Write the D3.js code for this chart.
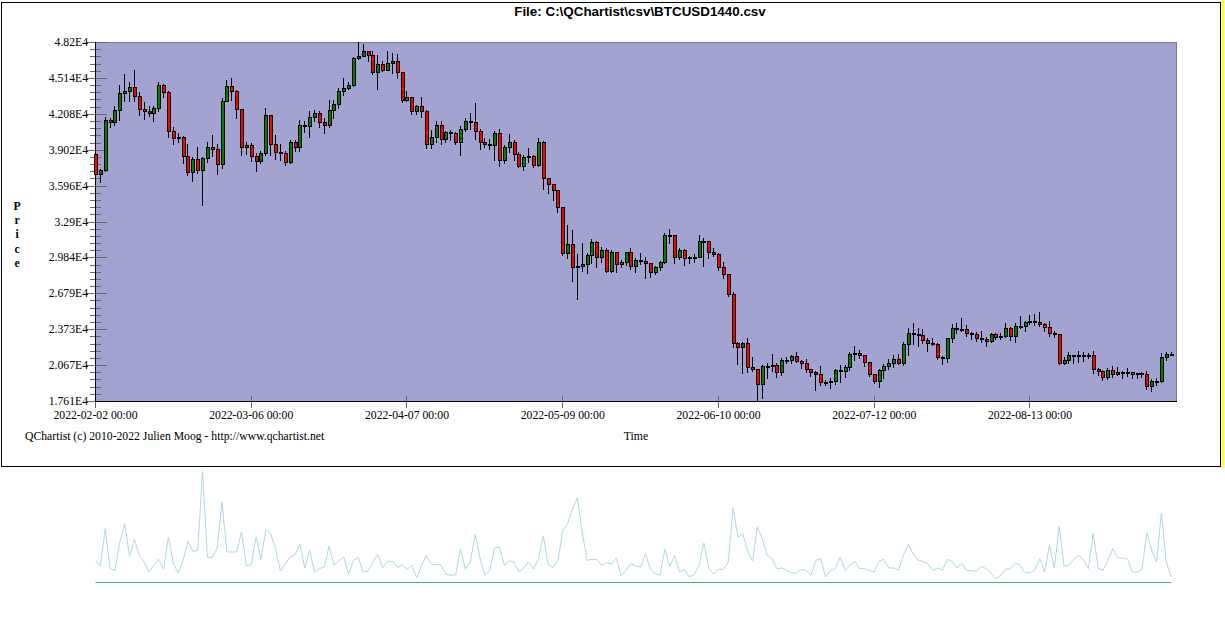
<!DOCTYPE html>
<html><head><meta charset="utf-8">
<script src="https://cdn.jsdelivr.net/npm/d3@7"></script>
<style>html,body{margin:0;padding:0;background:#fff}svg{display:block}</style>
</head><body>
<svg id="chart" width="1225" height="621"></svg>
<script>
const titleText = "File: C:\\QChartist\\csv\\BTCUSD1440.csv";
const footerText = "QChartist (c) 2010-2022 Julien Moog - http://www.qchartist.net";
const xAxisTitle = "Time";
const yAxisTitle = "Price";
const startDate = "2022-02-02";
const xTickDates = ["2022-02-02","2022-03-06","2022-04-07","2022-05-09","2022-06-10","2022-07-12","2022-08-13"];
const xTickLabels = ["2022-02-02 00:00","2022-03-06 00:00","2022-04-07 00:00","2022-05-09 00:00","2022-06-10 00:00","2022-07-12 00:00","2022-08-13 00:00"];
const yTickLabels = ["1.761E4","2.067E4","2.373E4","2.679E4","2.984E4","3.29E4","3.596E4","3.902E4","4.208E4","4.514E4","4.82E4"];

const opens = [
38630,36920,37270,41530,41420,42410,43830,44050,44340,43570,
42460,42290,42120,42550,44510,43910,40590,40050,40120,38460,
37100,38200,37320,38290,39250,39120,37780,43170,44420,44000,
42520,39230,39430,38460,38030,38720,41950,39480,38830,38740,
37980,39650,39280,41100,41020,41780,42180,41360,41160,42380,
42920,44000,44280,44510,46840,47040,47400,47120,45620,46330,
45840,46380,46580,45640,43230,43490,42290,42720,42290,39540,
40110,41100,39960,40500,40450,39680,40760,41440,41370,40590,
39710,39540,39400,40420,38170,39230,39710,38630,37660,38430,
38490,37750,39650,36580,36070,35560,34110,30250,30960,29060,
29150,29260,30020,31190,29910,30450,28690,30280,29260,29430,
30280,29140,29630,29540,29400,28630,29030,29430,31730,31750,
29850,30480,29770,29850,29870,31270,31200,30280,30140,29060,
28460,26760,22530,22210,22530,20480,20340,19030,20590,20600,
20680,20050,21100,21130,21450,21050,20880,20310,20110,19940,
19260,19200,19290,20220,20180,20510,21590,21730,21530,20900,
19910,19340,20250,20560,20850,21160,20820,22440,23380,23290,
23200,22780,22580,22470,21360,21250,22950,23800,23780,23750,
23380,23290,23010,22890,22750,23320,23040,23150,23800,23180,
24000,23980,24370,24400,24330,24170,23890,23380,23280,20880,
21100,21530,21450,21530,21450,21530,20310,20170,19630,20250,
19910,20080,20110,20050,19900,19990,19910,18890,19320,19330,
21330,21620];
const highs = [
38750,37380,41810,41730,42720,44540,45470,44790,45820,43940,
43090,42720,42750,44820,44600,44000,40930,40450,40200,39510,
38370,39280,38400,39650,40280,39500,43400,44990,45130,44100,
42520,39680,39600,38740,38890,42580,42010,40250,39510,38890,
39850,39850,41530,41440,42350,42440,42290,41730,43230,43230,
44280,45130,44790,46890,48195,48060,47400,47460,47120,46610,
47400,47260,47180,45640,44000,43490,42860,43490,42440,40670,
41500,41500,40590,40730,40500,41040,41700,42180,42970,40760,
39990,39910,40590,40790,39400,40360,39850,38830,38570,39140,
38540,39990,39790,36610,36070,35560,34170,32610,32180,30140,
31050,30190,31420,31250,30760,30650,30480,30340,29630,30340,
30620,29820,30190,29850,29400,29140,29570,31950,32240,31760,
30620,30560,29970,30140,31760,31500,31270,30620,30190,29460,
28460,26900,22600,22670,22950,21330,20340,20680,20880,21620,
20820,21250,21390,21560,21760,21100,21160,20310,20200,20590,
19400,19540,20310,20680,20680,21810,22300,21960,21530,20900,
19910,20310,20740,21190,21530,21590,22670,23860,24230,23860,
23750,22950,22950,22520,21400,23010,24140,24230,24650,24090,
23520,23460,23580,23090,23430,23430,23430,24290,23940,24290,
24850,24460,24940,25020,25170,24290,24460,23580,23280,21330,
21810,21530,21900,21810,21670,21900,20390,20250,20390,20590,
20540,20200,20390,20110,20030,20110,20170,19460,19540,21670,
21810,21810];
const lows = [
36750,36240,37180,40930,41100,41560,43150,43200,43150,41950,
41670,41900,41500,42290,43500,40080,39510,39650,37890,36850,
36390,37040,34340,38000,38460,36980,37490,43150,43290,41720,
38600,38660,38030,37180,37890,38600,38600,38230,38180,37750,
37890,38890,38890,40530,40080,41500,40930,40450,40930,41730,
42580,43660,44200,44420,46720,46980,46610,45500,44220,45700,
45780,45560,45130,43060,43150,42070,42070,41810,39170,39170,
39680,39510,39680,39820,39510,38600,40590,40760,39910,39110,
39280,39110,38150,37660,37920,38800,38150,37580,37290,38000,
37520,37640,35700,35310,34740,33740,30050,29770,27870,26300,
28720,28550,29340,29060,29480,28630,28630,28630,29000,29200,
28860,28630,29260,28060,28210,28430,28770,29340,31100,29400,
29680,29200,29400,29480,29850,29140,29820,29970,28770,28120,
26560,22240,20760,20030,20110,20200,17608,17900,19600,20200,
19690,19830,20880,20880,20960,20400,20110,19770,18550,18970,
18970,18750,19030,19260,19680,20250,21100,21300,20620,19770,
19170,18830,19600,20340,20540,20740,20680,21530,22440,22330,
22520,21900,22380,21190,20740,20960,22610,23380,23580,23180,
22870,22720,22670,22330,22610,22870,22870,23040,22810,22670,
23800,23600,24170,24090,24000,23600,23150,23090,20760,20740,
20880,20820,20960,21020,21250,20030,19830,19400,19460,19680,
19830,19540,19740,19540,19540,19630,18600,18490,18970,19260,
21100,21530];
const closes = [
36920,37270,41530,41420,42410,43830,44050,44340,43570,42460,
42290,42120,42550,44510,43910,40590,40050,40120,38460,37100,
38200,37320,38290,39250,39120,37780,43170,44420,44000,42520,
39230,39430,38460,38030,38720,41950,39480,38830,38740,37980,
39650,39280,41100,41020,41780,42180,41360,41160,42380,42920,
44000,44280,44510,46840,47040,47400,47120,45620,46330,45840,
46380,46580,45640,43230,43490,42290,42720,42290,39540,40110,
41100,39960,40500,40450,39680,40760,41440,41370,40590,39710,
39540,39400,40420,38170,39230,39710,38630,37660,38430,38490,
37750,39650,36580,36070,35560,34110,30250,30960,29060,29150,
29260,30020,31190,29910,30450,28690,30280,29260,29430,30280,
29140,29630,29540,29400,28630,29030,29430,31730,31750,29850,
30480,29770,29850,29870,31270,31200,30280,30140,29060,28460,
26760,22530,22210,22530,20480,20340,19030,20590,20600,20680,
20050,21100,21130,21450,21050,20880,20310,20110,19940,19260,
19200,19290,20220,20180,20510,21590,21730,21530,20900,19910,
19340,20250,20560,20850,21160,20820,22440,23380,23290,23200,
22780,22580,22470,21360,21250,22950,23800,23780,23750,23380,
23290,23010,22890,22750,23320,23040,23150,23800,23180,24000,
23980,24370,24400,24330,24170,23890,23380,23280,20880,21100,
21530,21450,21530,21450,21530,20310,20170,19630,20250,19910,
20080,20110,20050,19900,19990,19910,18890,19320,19330,21330,
21620,21640];
const volumes = [
65,48,160,40,35,120,174,77,128,80,
60,30,50,68,38,135,55,27,65,122,
92,95,333,74,74,102,240,90,90,90,
150,48,52,135,68,158,145,100,33,55,
75,82,114,42,95,30,40,45,107,50,
63,75,23,65,73,30,32,60,83,43,
62,62,44,52,38,50,13,50,80,53,
53,50,23,20,22,98,38,60,143,72,
20,35,102,105,50,64,60,30,42,60,
39,70,138,53,44,64,155,175,220,252,
150,65,68,68,50,58,54,72,18,35,
55,47,45,85,40,24,20,98,47,80,
30,38,15,22,50,117,40,24,38,38,
60,222,135,145,92,64,165,130,80,70,
40,42,35,27,27,38,35,20,65,70,
15,35,40,75,35,50,62,40,40,35,
30,63,68,42,42,35,80,113,85,65,
62,55,35,42,35,68,62,42,55,35,
33,33,47,40,27,10,20,38,40,56,
50,27,28,35,70,30,110,42,167,47,
50,68,80,65,40,147,42,35,64,100,
72,72,70,30,30,38,148,95,60,207,
60,15];

const svg = d3.select("#chart");
const plot = {left: 95, right: 1176, top: 42, bottom: 401};
const serif = "Liberation Serif, Times New Roman, serif";
const fs = "11.7px";
const N = closes.length;
const parse = d3.utcParse("%Y-%m-%d");
const t0 = parse(startDate);
const data = d3.range(N).map(i => ({date: d3.utcDay.offset(t0, i), o: opens[i], h: highs[i], l: lows[i], c: closes[i], v: volumes[i]}));

const x = d3.scaleUtc().domain([t0, d3.utcDay.offset(t0, N)]).range([plot.left + 0.5, plot.right]);
const yMin = d3.min(lows), yMax = d3.max(highs);
const y = d3.scaleLinear().domain([yMin, yMax]).range([plot.bottom, plot.top]);
const yv = d3.scaleLinear().domain([0, d3.max(volumes)]).range([582, 471]);
const px = d => Math.floor(x(d)) + 0.5;

// outer frame
svg.append("rect").attr("x", 1.5).attr("y", 2.5).attr("width", 1219).attr("height", 464)
  .attr("fill", "#fff").attr("stroke", "#000").attr("stroke-width", 1);
svg.append("line").attr("x1", 1223.5).attr("x2", 1223.5).attr("y1", 0).attr("y2", 468)
  .attr("stroke", "#ffff00").attr("stroke-width", 2);

// title
svg.append("text").attr("x", 640).attr("y", 16).attr("text-anchor", "middle")
  .attr("font-family", "Liberation Sans, Arial, sans-serif").attr("font-weight", "bold")
  .attr("font-size", "13.4px").text(titleText);

// plot background
svg.append("rect").attr("x", plot.left).attr("y", plot.top).attr("width", plot.right - plot.left).attr("height", plot.bottom - plot.top)
  .attr("fill", "#a3a3d1");
svg.append("line").attr("x1", plot.left).attr("x2", plot.right + 0.5).attr("y1", plot.top + 0.5).attr("y2", plot.top + 0.5).attr("stroke", "#7a7a7a");
svg.append("line").attr("x1", plot.right + 0.5).attr("x2", plot.right + 0.5).attr("y1", plot.top).attr("y2", plot.bottom).attr("stroke", "#7a7a7a");

// y ticks
const yTickValues = yTickLabels.map((_, k) => yMin + k * (yMax - yMin) / (yTickLabels.length - 1));
const minorValues = d3.range((yTickLabels.length - 1) * 5 + 1).map(k => yMin + k * (yMax - yMin) / ((yTickLabels.length - 1) * 5));
const yAxisG = svg.append("g");
yAxisG.selectAll("line.minor").data(minorValues).join("line").attr("class", "minor")
  .attr("x1", 90).attr("x2", 101)
  .attr("y1", d => Math.round(y(d)) + 0.5).attr("y2", d => Math.round(y(d)) + 0.5)
  .attr("stroke", "#666");
yAxisG.selectAll("line.major").data(yTickValues).join("line").attr("class", "major")
  .attr("x1", 86).attr("x2", 107)
  .attr("y1", d => Math.round(y(d)) + 0.5).attr("y2", d => Math.round(y(d)) + 0.5)
  .attr("stroke", "#666");
yAxisG.selectAll("text").data(yTickValues).join("text")
  .attr("x", 88).attr("y", d => y(d) + 4).attr("text-anchor", "end")
  .attr("font-family", serif).attr("font-size", fs)
  .attr("fill", "#000").text((d, i) => yTickLabels[i]);

// x ticks
const xTicks = xTickDates.map(parse);
const xAxisG = svg.append("g");
xAxisG.selectAll("line").data(xTicks).join("line")
  .attr("x1", d => px(d)).attr("x2", d => px(d)).attr("y1", 396).attr("y2", 408)
  .attr("stroke", "#666");
xAxisG.selectAll("text").data(xTicks).join("text")
  .attr("x", d => x(d)).attr("y", 418.5).attr("text-anchor", "middle")
  .attr("font-family", serif).attr("font-size", fs)
  .attr("fill", "#000").text((d, i) => xTickLabels[i]);

// axis lines
svg.append("line").attr("x1", plot.left + 0.5).attr("x2", plot.left + 0.5).attr("y1", plot.top).attr("y2", plot.bottom + 1).attr("stroke", "#000");
svg.append("line").attr("x1", plot.left).attr("x2", plot.right + 1).attr("y1", plot.bottom + 0.5).attr("y2", plot.bottom + 0.5).attr("stroke", "#000");

// candles
const cg = svg.append("g");
const candle = cg.selectAll("g").data(data).join("g");
candle.append("line")
  .attr("x1", d => px(d.date)).attr("x2", d => px(d.date))
  .attr("y1", d => Math.round(y(d.h))).attr("y2", d => Math.round(y(d.l)) + 1)
  .attr("stroke", "#000");
candle.append("rect")
  .attr("x", d => px(d.date) - 1)
  .attr("width", 3)
  .attr("y", d => Math.round(y(Math.max(d.o, d.c))) + 0.5)
  .attr("height", d => Math.max(1, Math.round(y(Math.min(d.o, d.c))) - Math.round(y(Math.max(d.o, d.c)))))
  .attr("fill", d => d.c >= d.o ? "#008000" : "#ff0000")
  .attr("stroke", "#000").attr("stroke-width", 1);

// axis titles and footer
const pg = svg.append("g").attr("font-family", serif).attr("font-size", fs).attr("font-weight", "bold");
pg.selectAll("text").data(yAxisTitle.split("")).join("text")
  .attr("x", 17).attr("y", (d, i) => 210 + i * 14.2).attr("text-anchor", "middle").text(d => d);
svg.append("text").attr("x", 636).attr("y", 440).attr("text-anchor", "middle")
  .attr("font-family", serif).attr("font-size", fs).text(xAxisTitle);
svg.append("text").attr("x", 25).attr("y", 440)
  .attr("font-family", serif).attr("font-size", fs).text(footerText);

// volume panel
svg.append("line").attr("x1", x(data[0].date)).attr("x2", x(data[N - 1].date))
  .attr("y1", yv(0) + 0.5).attr("y2", yv(0) + 0.5).attr("stroke", "#3cb371").attr("stroke-width", 1);
svg.append("path").datum(data)
  .attr("d", d3.line().x(d => x(d.date)).y(d => yv(d.v)))
  .attr("fill", "none").attr("stroke", "#add8e6").attr("stroke-width", 1);
</script>
</body></html>
